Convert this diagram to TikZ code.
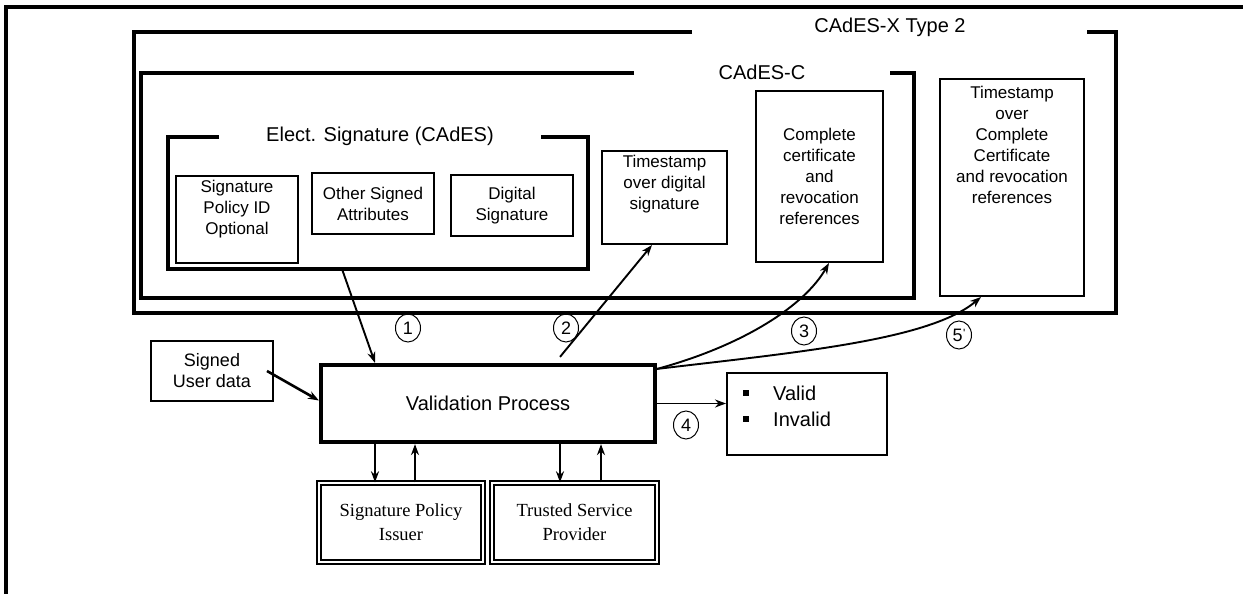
\documentclass[tikz,border=0pt]{standalone}
\usepackage{fontspec}
\setmainfont{Liberation Sans}
\newfontfamily\serifface{Liberation Serif}
\usetikzlibrary{arrows.meta,calc,shapes.geometric}

\begin{document}
\begin{tikzpicture}[x=1pt,y=-1pt,
  box/.style={draw, line width=2pt, inner sep=0pt, align=center,
    font=\fontsize{17}{21}\selectfont},
  dbox/.style={draw, double, double distance=2.4pt, line width=1.4pt,
    inner sep=0pt, align=center, font=\serifface\fontsize{18.5}{24}\selectfont},
  frm/.style={line width=3.2pt, line join=miter},
  ttl/.style={font=\fontsize{20}{24}\selectfont, inner sep=0pt},
  arr/.style={-{Stealth[length=11pt,width=8pt]}, line width=1.9pt},
  num/.style={draw, ellipse, line width=1pt, minimum width=25pt, minimum height=28pt,
    inner sep=0pt, font=\fontsize{18}{18}\selectfont}]
\useasboundingbox (0,0) rectangle (1243,594);

% page frame (top and left edges)
\draw[line width=3.2pt] (6,594) -- (6,7) -- (1243,7);

% CAdES-X Type 2 bracket
\node[ttl] (tx) at (890,27) {CAdES-X Type 2};
\draw[frm] (692,32) -- (134,32) -- (134,313) -- (1116,313) -- (1116,32) -- (1087,32);

% CAdES-C bracket
\node[ttl] (tc) at (762,72) {CAdES-C};
\draw[frm] (634,73) -- (141,73) -- (141,298) -- (914,298) -- (914,73) -- (890,73);

% Electronic signature bracket
\node[ttl] (te) at (380,136) {Elect. Signature (CAdES)};
\draw[frm] (219,137) -- (168,137) -- (168,269) -- (588,269) -- (588,137) -- (541,137);
\coordinate (es) at (378,269);

% signed content
\node[box, minimum width=122pt, minimum height=87pt] (spid) at (237,219.5)
  {Signature\\Policy ID\\Optional\\[4pt]};
\node[box, minimum width=122pt, minimum height=61pt] (osa) at (373,203.5)
  {Other Signed\\Attributes};
\node[box, minimum width=122pt, minimum height=61pt] (dsig) at (512,205.5)
  {Digital\\Signature};

% timestamps and references
\node[box, minimum width=125pt, minimum height=93pt] (tsd) at (664.5,197.5)
  {Timestamp\\over digital\\signature\\[10pt]};
\node[box, minimum width=127pt, minimum height=171pt] (cc) at (819.5,176.5)
  {Complete\\certificate\\and\\revocation\\references};
\node[box, minimum width=144pt, minimum height=217pt] (tsc) at (1012,187.5) {};
\node[font=\fontsize{17}{21}\selectfont, align=center, anchor=north, inner sep=0pt]
  (tsctext) at ([yshift=-8pt]tsc.north)
  {Timestamp\\over\\Complete\\Certificate\\and revocation\\references};

% validation
\node[box, minimum width=122pt, minimum height=60pt, font=\fontsize{18}{21}\selectfont]
  (sud) at (212,371) {Signed\\User data};
\node[box, line width=4.2pt, minimum width=334pt, minimum height=77pt,
  font=\fontsize{20}{24}\selectfont] (vp) at (488,403.5) {Validation Process};
\node[box, minimum width=160pt, minimum height=82pt] (res) at (807,414) {};
\node[anchor=west, inner sep=0pt, font=\fontsize{20}{26}\selectfont] (restext) at (743,408)
  {\begin{tabular}{@{}l@{\hspace{24pt}}l@{}}
    \rule[4pt]{6pt}{6pt} & Valid\\
    \rule[4pt]{6pt}{6pt} & Invalid
  \end{tabular}};
\node[dbox, minimum width=164pt, minimum height=79pt] (spi) at (401,522.5)
  {Signature Policy\\Issuer};
\node[dbox, minimum width=165pt, minimum height=79pt] (tsp) at (574.5,522.5)
  {Trusted Service\\Provider};

% connectors
\draw[arr] ([xshift=-36pt]es) -- ([xshift=-113pt]vp.north);
\draw[arr] ([xshift=72pt,yshift=6pt]vp.north) -- ([xshift=-12.5pt]tsd.south);
\draw[arr] ([yshift=-6pt]vp.north east) .. controls (745,345) and (805,305) .. ([xshift=9.5pt]cc.south);
\draw[arr] ([yshift=-6pt]vp.north east) .. controls (800,352) and (930,340) .. ([xshift=-31pt]tsc.south);
\draw[arr] (vp.east) -- (vp.east -| res.west);
\draw[arr, line width=2.6pt] ([xshift=-7pt]sud.east) -- ([yshift=3pt]vp.west);

\draw[arr] ([xshift=-113pt]vp.south) -- ([xshift=-113pt]vp.south |- spi.north);
\draw[arr] ([xshift=-73pt]vp.south |- spi.north) -- ([xshift=-73pt]vp.south);
\draw[arr] ([xshift=72pt]vp.south) -- ([xshift=72pt]vp.south |- tsp.north);
\draw[arr] ([xshift=113pt]vp.south |- tsp.north) -- ([xshift=113pt]vp.south);

% step numbers
\node[num] (n1) at (408,328) {1};
\node[num] (n2) at (566,328) {2};
\node[num] (n3) at (804,331) {3};
\node[num] (n4) at (686,425) {4};
\node[num] (n5) at (959,335) {5\kern0.5pt\raisebox{4pt}{\fontsize{12}{12}\selectfont\textquotesingle}};
\end{tikzpicture}
\end{document}
